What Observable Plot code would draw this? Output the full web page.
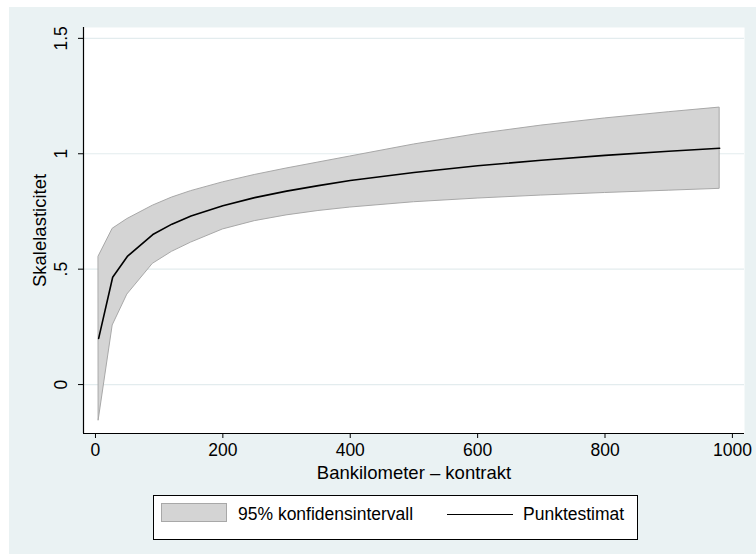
<!DOCTYPE html>
<html>
<head>
<meta charset="utf-8">
<script src="https://cdn.jsdelivr.net/npm/d3@7"></script>
<script src="https://cdn.jsdelivr.net/npm/@observablehq/plot@0.6"></script>
<style>
  html, body { margin: 0; padding: 0; background: #ffffff; }
  body { width: 756px; height: 554px; position: relative; overflow: hidden;
         font-family: "Liberation Sans", Arial, Helvetica, sans-serif; }
  #wrap { position: absolute; left: 9px; top: 7px; width: 747px; height: 547px; background: #eaf2f3; }
  #chart { position: absolute; left: 0; top: 0; }
  #legend { position: absolute; left: 144px; top: 488px; width: 485px; height: 45px;
            box-sizing: border-box; border: 1px solid #000; background: #fff; font-size: 17.5px; color: #000; }
  #legend .sw { position: absolute; left: 7px; top: 7px; width: 66px; height: 19px; box-sizing: border-box;
                background: #d4d4d4; border: 1px solid #a8a8a8; }
  #legend .ln { position: absolute; left: 293px; top: 18px; width: 66px; height: 0; border-top: 1.5px solid #000; }
  #legend .t { position: absolute; top: 8px; line-height: 20px; white-space: nowrap; }
</style>
</head>
<body>
<div id="wrap">
  <div id="chart"></div>
  <div id="legend">
    <div class="sw"></div><div class="t" style="left:84px">95% konfidensintervall</div>
    <div class="ln"></div><div class="t" style="left:369px">Punktestimat</div>
  </div>
</div>
<script>
// Bankilometer (x)
const km = [5, 27, 50, 90, 120, 150, 200, 250, 300, 350, 400, 500, 600, 700, 800, 900, 980];
// Punktestimat
const estimate = [0.20, 0.465, 0.555, 0.650, 0.695, 0.730, 0.775, 0.810, 0.838, 0.862, 0.884, 0.919, 0.948, 0.972, 0.993, 1.011, 1.024];
// 95% konfidensintervall
const upper = [0.555, 0.675, 0.717, 0.775, 0.810, 0.838, 0.876, 0.908, 0.936, 0.962, 0.988, 1.040, 1.085, 1.122, 1.153, 1.180, 1.200];
const lower = [-0.155, 0.256, 0.390, 0.523, 0.575, 0.615, 0.672, 0.708, 0.733, 0.752, 0.767, 0.790, 0.806, 0.819, 0.830, 0.840, 0.848];
// Ticks
const xTicks = [0, 200, 400, 600, 800, 1000];
const yTicks = [0, 0.5, 1, 1.5];
const yTickLabels = ["0", ".5", "1", "1.5"];

const data = km.map((k, i) => ({km: k, est: estimate[i], lo: lower[i], hi: upper[i]}));
const xDomain = [-18.8, 1019];
const yDomain = [-0.212, 1.547];

const chart = Plot.plot({
  width: 747,
  height: 482,
  marginLeft: 74,
  marginRight: 12,
  marginTop: 20,
  marginBottom: 56,
  style: {background: "transparent", fontFamily: "'Liberation Sans', Arial, sans-serif", fontSize: "17.5px", color: "#000"},
  x: {domain: xDomain},
  y: {domain: yDomain},
  marks: [
    Plot.frame({fill: "#ffffff", stroke: null}),
    Plot.gridY(yTicks, {stroke: "#e3ecee", strokeOpacity: 1, strokeWidth: 1.2}),
    Plot.areaY(data, {x: "km", y1: "lo", y2: "hi", fill: "#d4d4d4", stroke: "#a8a8a8", strokeWidth: 1}),
    Plot.lineY(data, {x: "km", y: "est", stroke: "#000", strokeWidth: 1.6}),
    Plot.ruleX([xDomain[0]], {stroke: "#000", strokeWidth: 1.2}),
    Plot.ruleY([yDomain[0]], {stroke: "#000", strokeWidth: 1.2}),
    Plot.axisX({ticks: xTicks, tickFormat: d => String(d), tickSize: 5, tickPadding: 5, fontSize: 17.5, label: null}),
    Plot.axisX({ticks: [], tickSize: 0, fontSize: 18.5, label: "Bankilometer – kontrakt",
                labelAnchor: "center", labelOffset: 45, labelArrow: "none"}),
    Plot.axisY({ticks: yTicks, tickFormat: d => yTickLabels[yTicks.indexOf(d)], tickSize: 5, tickPadding: 12,
                tickRotate: -90, fontSize: 17.5, label: null}),
    Plot.axisY({ticks: [], tickSize: 0, fontSize: 18.5, label: "Skalelasticitet", labelAnchor: "center", labelOffset: 51, labelArrow: "none"})
  ]
});
document.getElementById("chart").appendChild(chart);
</script>
</body>
</html>
